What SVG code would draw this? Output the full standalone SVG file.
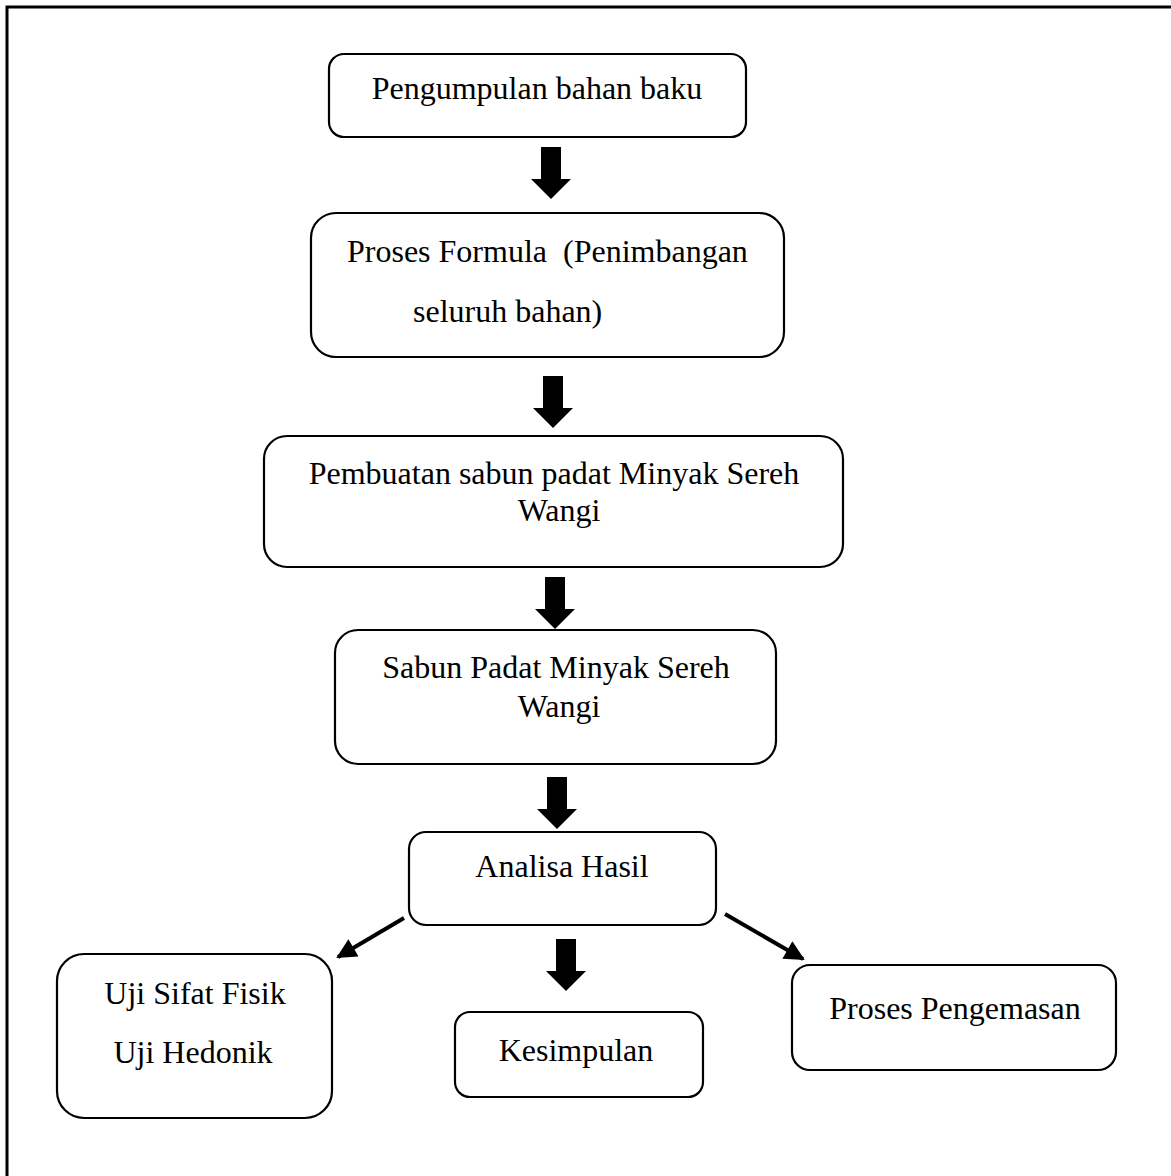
<svg xmlns="http://www.w3.org/2000/svg" width="1171" height="1176" viewBox="0 0 1171 1176">
<defs>
<style>
.box{fill:#fff;stroke:#000;stroke-width:2.2}
.t{font-family:"Liberation Serif","Times New Roman",serif;font-size:32px;fill:#000;white-space:pre}
.c{text-anchor:middle}
.blk{fill:#000}
.ln{stroke:#000;stroke-width:4;fill:none}
</style>
<marker id="ah" viewBox="0 0 10 10" refX="9" refY="5" markerWidth="5.5" markerHeight="5" orient="auto" markerUnits="strokeWidth">
<path d="M0,0 L10,5 L0,10 Z" fill="#000"/>
</marker>
<path id="blk" d="M-10,0 H10 V32 H20 L0,52 L-20,32 H-10 Z"/>
</defs>
<rect x="7" y="7" width="1190" height="1200" fill="none" stroke="#000" stroke-width="3"/>
<g id="n1"><rect class="box" x="329" y="54" width="417" height="83" rx="15"/><text class="t c" x="537" y="99">Pengumpulan bahan baku</text></g>
<g id="n2"><rect class="box" x="311" y="213" width="473" height="144" rx="25"/><text class="t" x="347" y="262" xml:space="preserve">Proses Formula  (Penimbangan</text><text class="t" x="413" y="322">seluruh bahan)</text></g>
<g id="n3"><rect class="box" x="264" y="436" width="579" height="131" rx="23"/><text class="t c" x="554" y="484">Pembuatan sabun padat Minyak Sereh</text><text class="t c" x="559" y="521">Wangi</text></g>
<g id="n4"><rect class="box" x="335" y="630" width="441" height="134" rx="23"/><text class="t c" x="556" y="678">Sabun Padat Minyak Sereh</text><text class="t c" x="559" y="717">Wangi</text></g>
<g id="n5"><rect class="box" x="409" y="832" width="307" height="93" rx="17"/><text class="t c" x="562" y="877">Analisa Hasil</text></g>
<g id="n6"><rect class="box" x="57" y="954" width="275" height="164" rx="27"/><text class="t c" x="195" y="1004">Uji Sifat Fisik</text><text class="t c" x="193" y="1063">Uji Hedonik</text></g>
<g id="n7"><rect class="box" x="455" y="1012" width="248" height="85" rx="15"/><text class="t c" x="576" y="1061">Kesimpulan</text></g>
<g id="n8"><rect class="box" x="792" y="965" width="324" height="105" rx="18"/><text class="t c" x="955" y="1019">Proses Pengemasan</text></g>
<g id="connectors">
<use href="#blk" class="blk" x="551" y="147"/>
<use href="#blk" class="blk" x="553" y="376"/>
<use href="#blk" class="blk" x="555" y="577"/>
<use href="#blk" class="blk" x="557" y="777"/>
<use href="#blk" class="blk" x="566" y="939"/>
<line class="ln" x1="404" y1="918" x2="338" y2="957" marker-end="url(#ah)"/>
<line class="ln" x1="725" y1="914" x2="803" y2="959" marker-end="url(#ah)"/>
</g>
</svg>
